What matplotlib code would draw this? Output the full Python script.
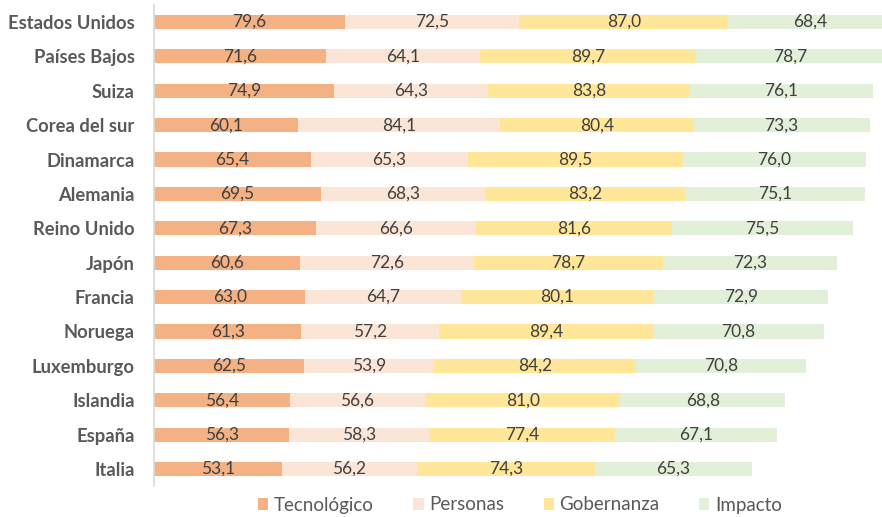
import matplotlib.pyplot as plt
import numpy as np

paises = ['Estados Unidos', 'Países Bajos', 'Suiza', 'Corea del sur', 'Dinamarca',
          'Alemania', 'Reino Unido', 'Japón', 'Francia', 'Noruega', 'Luxemburgo',
          'Islandia', 'España', 'Italia']
tecnologico = [79.6, 71.6, 74.9, 60.1, 65.4, 69.5, 67.3, 60.6, 63.0, 61.3, 62.5, 56.4, 56.3, 53.1]
personas = [72.5, 64.1, 64.3, 84.1, 65.3, 68.3, 66.6, 72.6, 64.7, 57.2, 53.9, 56.6, 58.3, 56.2]
gobernanza = [87.0, 89.7, 83.8, 80.4, 89.5, 83.2, 81.6, 78.7, 80.1, 89.4, 84.2, 81.0, 77.4, 74.3]
impacto = [68.4, 78.7, 76.1, 73.3, 76.0, 75.1, 75.5, 72.3, 72.9, 70.8, 70.8, 68.8, 67.1, 65.3]

series = [('Tecnológico', tecnologico, '#F4B183'),
          ('Personas', personas, '#FBE5D6'),
          ('Gobernanza', gobernanza, '#FFE699'),
          ('Impacto', impacto, '#E2F0D9')]

plt.rcParams['font.family'] = ['Lato', 'DejaVu Sans']

fig = plt.figure(figsize=(8.82, 5.17), dpi=100)
ax = fig.add_axes([154 / 882, 1 - 486.2 / 517, 1 - 154 / 882, (486.2 - 4.8) / 517])

y = np.arange(len(paises))
left = np.zeros(len(paises))
for nombre, vals, color in series:
    vals = np.array(vals)
    ax.barh(y, vals, left=left, height=0.41, color=color, label=nombre)
    for yi, l, v in zip(y, left, vals):
        ax.text(l + v / 2, yi, f'{v:.1f}'.replace('.', ','), ha='center', va='center',
                fontsize=12.5, color='#404040')
    left += vals

ax.set_xlim(0, 303)
ax.set_ylim(len(paises) - 0.5, -0.5)
ax.set_yticks(y)
ax.set_yticklabels(paises, fontsize=13.2, fontweight='bold', color='#595959')
ax.tick_params(axis='y', length=0, pad=14)
ax.set_xticks([])
for s in ['top', 'right', 'bottom']:
    ax.spines[s].set_visible(False)
ax.spines['left'].set_color('#D9D9D9')
ax.spines['left'].set_linewidth(1.2)

leg = fig.legend(loc='center', bbox_to_anchor=(520 / 882, 1 - 505 / 517), ncol=4,
                 frameon=False, fontsize=13.5, handlelength=0.55, handleheight=0.55,
                 columnspacing=2.1, handletextpad=0.3)
for t in leg.get_texts():
    t.set_color('#595959')

fig.savefig('out.png', dpi=100)
